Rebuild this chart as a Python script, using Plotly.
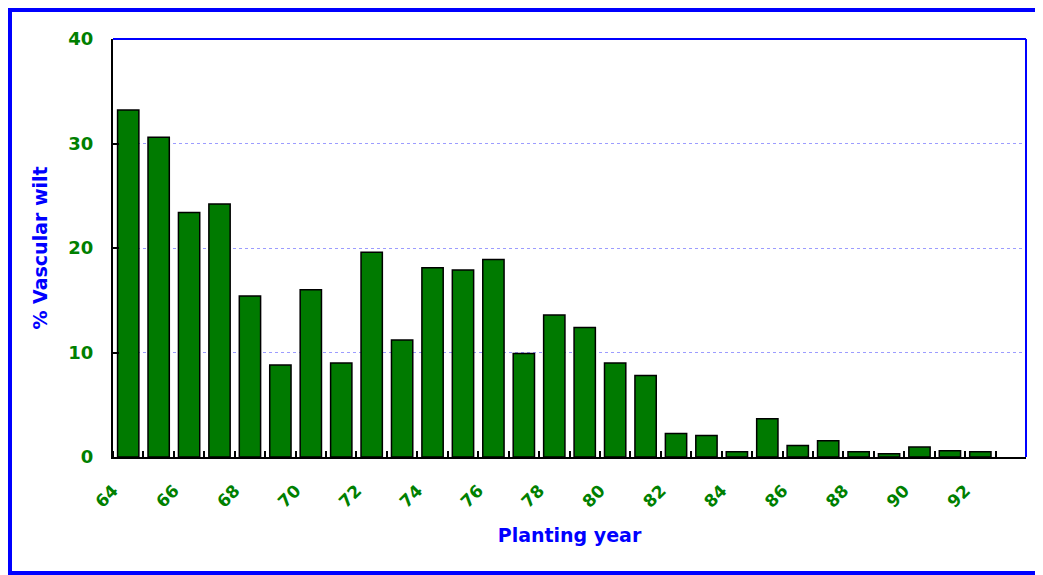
import plotly.graph_objects as go

# Planting year (19xx) and % vascular wilt
years = list(range(64, 93))
wilt_pct = [
    33.2, 30.6, 23.4, 24.2, 15.4, 8.8, 16.0, 9.0, 19.6, 11.2,
    18.1, 17.9, 18.9, 9.9, 13.6, 12.4, 9.0, 7.8, 2.25, 2.05,
    0.5, 3.65, 1.1, 1.55, 0.5, 0.3, 0.95, 0.6, 0.5,
]
tick_years = list(range(64, 93, 2))
y_ticks = [0, 10, 20, 30, 40]

GREEN = "#007A00"
BLUE = "#0000FF"
FONT = "DejaVu Sans"

# page body adds an 8px margin, so the figure is sized to fit the window
W, H = 1035, 567
ML, MR, MT, MB = 105, 17, 31, 118
pw, ph = W - ML - MR, H - MT - MB


def px_x(v):
    return (v - ML) / pw


def px_y(v):
    return (H - MB - v) / ph


fig = go.Figure()

fig.add_trace(
    go.Bar(
        x=years,
        y=wilt_pct,
        width=0.7,
        marker=dict(color=GREEN, line=dict(color="black", width=1.5)),
        hoverinfo="x+y",
        showlegend=False,
    )
)

fig.update_layout(
    width=W,
    height=H,
    margin=dict(l=ML, r=MR, t=MT, b=MB),
    paper_bgcolor="white",
    plot_bgcolor="white",
    font=dict(family=FONT),
    xaxis=dict(
        range=[63.5, 93.5],
        tickvals=tick_years,
        ticktext=[str(v) for v in tick_years],
        tickangle=-45,
        ticks="",
        ticklabelshift=-15,
        ticklabelstandoff=15,
        tickfont=dict(family=FONT, size=17, color="#008000", weight="bold"),
        showgrid=False,
        zeroline=False,
        showline=True,
        linecolor="black",
        linewidth=2,
        minor=dict(tick0=63.5, dtick=1, ticks="inside", ticklen=6,
                   tickcolor="black", tickwidth=1.5, showgrid=False),
        title=dict(text="Planting year", standoff=18,
                   font=dict(family=FONT, size=19, color=BLUE, weight="bold")),
    ),
    yaxis=dict(
        range=[0, 40],
        tickvals=y_ticks,
        ticks="inside",
        ticklen=6,
        tickwidth=1.5,
        tickcolor="black",
        tickfont=dict(family=FONT, size=18, color="#008000", weight="bold"),
        ticklabelstandoff=14,
        showgrid=True,
        gridcolor="#9C9CFF",
        griddash="dot",
        gridwidth=1,
        zeroline=False,
        showline=True,
        linecolor="black",
        linewidth=2,
        title=dict(text="% Vascular wilt", standoff=16,
                   font=dict(family=FONT, size=19, color=BLUE, weight="bold")),
    ),
    shapes=[
        # plot-area top and right border in blue
        dict(type="line", xref="paper", yref="paper", x0=0, x1=1, y0=1, y1=1,
             line=dict(color=BLUE, width=2)),
        dict(type="line", xref="paper", yref="paper", x0=1, x1=1, y0=0, y1=1,
             line=dict(color=BLUE, width=2)),
        # outer frame
        dict(type="rect", xref="paper", yref="paper",
             x0=px_x(2), x1=px_x(W - 2), y0=px_y(H - 2), y1=px_y(2),
             line=dict(color=BLUE, width=4), layer="above"),
    ],
)

fig.write_html("out.html")
